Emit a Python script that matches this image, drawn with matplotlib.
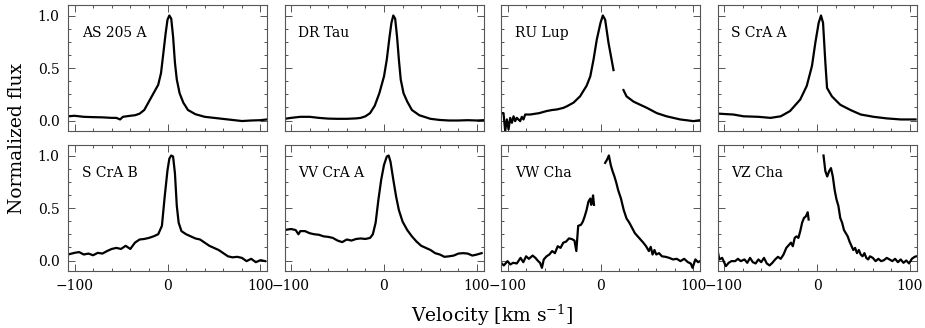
import numpy as np
import matplotlib
matplotlib.use("Agg")
import matplotlib.pyplot as plt
from matplotlib.ticker import MultipleLocator, FixedLocator

plt.rcParams['font.family'] = ['DejaVu Serif']
plt.rcParams['mathtext.fontset'] = 'dejavuserif'

nan = np.nan

names = ["AS 205 A", "DR Tau", "RU Lup", "S CrA A",
         "S CrA B", "VV CrA A", "VW Cha", "VZ Cha"]

as205a_v = [-107, -100, -90, -80, -70, -60, -55, -51, -48, -40, -35, -30, -25, -20, -15, -10, -7, -5, -2, 0,
            2, 4, 6, 8, 10, 13, 17, 22, 30, 40, 50, 60, 70, 80, 90, 100, 107]
as205a_f = [0.04, 0.045, 0.035, 0.032, 0.03, 0.025, 0.025, 0.01, 0.035, 0.045, 0.05, 0.065, 0.10, 0.18, 0.26,
            0.34, 0.45, 0.60, 0.83, 0.96, 1.0, 0.97, 0.80, 0.55, 0.39, 0.26, 0.17, 0.10, 0.06, 0.035, 0.025,
            0.015, 0.005, -0.005, 0.0, 0.003, 0.01]

drtau_v = [-107, -100, -90, -80, -70, -60, -50, -40, -30, -25, -20, -15, -10, -5, 0, 3, 6, 8, 10, 12, 14, 16,
           18, 21, 25, 30, 38, 50, 60, 70, 80, 90, 100, 107]
drtau_f = [0.016, 0.025, 0.035, 0.035, 0.025, 0.018, 0.016, 0.016, 0.02, 0.025, 0.04, 0.07, 0.14, 0.26, 0.42,
           0.58, 0.80, 0.93, 1.0, 0.97, 0.80, 0.58, 0.39, 0.26, 0.18, 0.10, 0.05, 0.016, 0.005, 0.0, 0.0,
           0.003, 0.0, 0.003]

rulup_v = [-107, -104.3, -102.5, -100.7, -98.9, -97.1, -95.3, -93.5, -91.8, -90, -86.4, -84.6, -82.8, -81,
           -75.6, -66, -58, -52, -47, -40, -36, -29, -22, -15, -11, -7.5, -4, 0, 2.5, 5, 8.6, 14,
           19, 24.7, 28, 35.5, 42.7, 50, 60.6, 71, 85.7, 100, 107]
rulup_f = [0.07, 0.07, -0.10, 0.01, -0.085, 0.025, -0.022, 0.04, -0.006, 0.025, -0.006, 0.035, 0.01, 0.057,
           0.057, 0.07, 0.09, 0.10, 0.105, 0.12, 0.136, 0.17, 0.23, 0.33, 0.42, 0.58, 0.77, 0.93, 1.0, 0.96,
           0.74, 0.48, nan, 0.29, 0.23, 0.18, 0.15, 0.12, 0.07, 0.04, 0.01, -0.006, 0.003]

scraa_v = [-107, -100, -90, -79, -63, -50, -39, -29, -18, -11, -5.4, -1.8, 1.8, 4.3, 6.5, 9, 10.8, 16, 25, 36,
           47, 61, 75, 90, 106]
scraa_f = [0.066, 0.062, 0.057, 0.04, 0.035, 0.025, 0.04, 0.09, 0.2, 0.33, 0.52, 0.74, 0.93, 1.0, 0.93, 0.55,
           0.31, 0.23, 0.15, 0.10, 0.057, 0.035, 0.02, 0.01, 0.01]

scrab_v = [-107, -100, -95, -90, -85, -80, -75, -70, -65, -60, -55, -50, -45, -40, -35, -30, -25, -20, -15, -10,
           -6, -3, 0, 2, 4, 6, 8, 10, 12, 15, 20, 25, 30, 35, 40, 45, 50, 55, 60, 65,
           70, 75, 80, 85, 90, 95, 100, 105]
scrab_f = [0.057, 0.073, 0.08, 0.057, 0.066, 0.05, 0.073, 0.066, 0.09, 0.11, 0.12, 0.11, 0.14, 0.11, 0.17, 0.20,
           0.205, 0.215, 0.23, 0.25, 0.33, 0.61, 0.86, 0.97, 1.0, 0.99, 0.83, 0.52, 0.36, 0.28,
           0.25, 0.23, 0.21, 0.20, 0.17, 0.14, 0.12, 0.10, 0.07, 0.04, 0.03, 0.035, 0.025, -0.006, 0.016,
           -0.016, 0.003, -0.006]

vvcraa_v = [-107, -100, -95, -92, -90, -85, -80, -75, -70, -65, -60, -55, -50, -45, -40, -35, -30, -25, -20, -15,
            -12, -9, -6, -3, 0, 3, 5, 7, 10, 13, 16, 20, 25, 30, 35, 40, 45, 50, 55, 60,
            65, 70, 75, 80, 85, 90, 95, 100, 105]
vvcraa_f = [0.29, 0.30, 0.29, 0.25, 0.28, 0.28, 0.26, 0.25, 0.245, 0.23, 0.225, 0.215, 0.19, 0.175, 0.20, 0.19,
            0.205, 0.21, 0.205, 0.215, 0.25, 0.36, 0.58, 0.77, 0.91, 0.99, 1.0, 0.94, 0.77, 0.61,
            0.48, 0.37, 0.29, 0.23, 0.18, 0.14, 0.12, 0.10, 0.07, 0.057, 0.035, 0.04, 0.047, 0.066, 0.07,
            0.066, 0.047, 0.057, 0.07]

vwcha_v = [-107, -104, -100, -97, -94, -90, -86, -83, -80, -77, -73, -70, -67, -65, -63, -61, -58, -55, -52, -49,
           -46, -43, -40, -37, -34, -31, -28, -26, -24, -21, -19, -17, -15, -13, -11, -10, -9, -8, -7,
           0,
           5, 7, 9, 11, 13, 15, 17, 19, 22, 25, 28, 31, 34, 37, 40, 43, 46, 49, 52, 54,
           56, 58, 60, 63, 66, 70, 74, 78, 82, 86, 90, 94, 97, 99, 102, 105, 107]
vwcha_f = [-0.022, -0.047, -0.006, -0.038, -0.022, -0.028, 0.025, -0.016, 0.04, 0.016, 0.047, 0.025, -0.006,
           -0.022, -0.07, 0.01, 0.04, 0.057, 0.09, 0.07, 0.136, 0.12, 0.17, 0.18, 0.21, 0.205, 0.19, 0.09,
           0.33, 0.34, 0.37, 0.42, 0.48, 0.56, 0.59, 0.53, 0.56, 0.62, 0.53,
           nan,
           0.93, 0.96, 1.0, 0.91, 0.85, 0.80, 0.74, 0.67, 0.59, 0.48, 0.40, 0.36, 0.31, 0.26, 0.23, 0.20,
           0.17, 0.136, 0.09, 0.13, 0.057, 0.10, 0.057, 0.07, 0.04, 0.035, 0.025, 0.01, 0.016, -0.006,
           0.016, -0.016, -0.028, -0.07, 0.01, -0.016, -0.006]

vzcha_v = [-107, -105, -102, -98, -95, -92, -88, -85, -82, -78, -75, -72, -69, -66, -63, -60, -57, -54, -51, -48,
           -45, -42, -39, -36, -33, -30, -28, -26, -24, -22, -20, -18, -16, -14, -12, -10, -9,
           0,
           7, 9, 11, 13, 15, 17, 19, 21, 23, 25, 27, 29, 31, 33, 35, 37, 39, 41, 43, 45,
           47, 49, 51, 53, 55, 57, 60, 63, 66, 69, 72, 75, 78, 81, 84, 87, 90, 93, 96, 99, 102, 105, 107]
vzcha_f = [0.10, 0.01, 0.025, -0.054, -0.022, -0.006, -0.006, 0.016, -0.006, 0.01, -0.022, 0.025, -0.016,
           -0.028, 0.01, -0.016, 0.025, -0.028, -0.047, -0.022, 0.01, 0.035, 0.016, 0.057, 0.12, 0.15, 0.17,
           0.136, 0.215, 0.23, 0.215, 0.28, 0.36, 0.405, 0.42, 0.46, 0.39,
           nan,
           1.0, 0.85, 0.80, 0.85, 0.88, 0.80, 0.67, 0.58, 0.52, 0.405, 0.36, 0.29, 0.26, 0.23, 0.18, 0.14,
           0.10, 0.12, 0.07, 0.10, 0.057, 0.04, 0.07, 0.025, 0.01, 0.04, 0.025, -0.006, 0.016, -0.006,
           0.003, 0.025, 0.01, -0.006, 0.016, -0.016, 0.01, -0.022, 0.0, -0.028, 0.016, 0.035, 0.04]

velocities = [as205a_v, drtau_v, rulup_v, scraa_v, scrab_v, vvcraa_v, vwcha_v, vzcha_v]
fluxes = [as205a_f, drtau_f, rulup_f, scraa_f, scrab_f, vvcraa_f, vwcha_f, vzcha_f]

W, H = 925.0, 328.0
fig = plt.figure(figsize=(9.25, 3.28), dpi=100)

lefts = [68, 284.5, 501, 717.5]
tops = [5, 145]
aw, ah = 199, 126

for i in range(8):
    row, col = i // 4, i % 4
    ax = fig.add_axes([lefts[col] / W, (H - tops[row] - ah) / H, aw / W, ah / H])
    ax.plot(velocities[i], fluxes[i], color='black', lw=1.6)
    ax.set_xlim(-107, 107)
    ax.set_ylim(-0.1, 1.1)
    ax.xaxis.set_major_locator(FixedLocator([-100, 0, 100]))
    ax.xaxis.set_minor_locator(MultipleLocator(20))
    ax.yaxis.set_major_locator(FixedLocator([0.0, 0.5, 1.0]))
    ax.yaxis.set_minor_locator(MultipleLocator(0.125))
    ax.tick_params(which='both', direction='in', top=True, right=True, color='#555555',
                   labelsize=10, pad=6)
    ax.tick_params(which='major', length=5, width=0.7)
    ax.tick_params(which='minor', length=2.5, width=0.7)
    for s in ax.spines.values():
        s.set_color('#555555')
        s.set_linewidth(0.8)
    if col == 0:
        ax.set_yticklabels(['0.0', '0.5', '1.0'])
    else:
        ax.set_yticklabels([])
    if row == 1:
        ax.set_xticklabels(['\u2212100', '0', '100'])
    else:
        ax.set_xticklabels([])
    ax.text(0.07, 0.78, names[i], transform=ax.transAxes, fontsize=10, va='center', ha='left')

fig.text(492 / W, 1 - 315 / H, 'Velocity [km s$^{-1}$]', ha='center', va='center', fontsize=13.5)
fig.text(17 / W, 1 - 138 / H, 'Normalized flux', ha='center', va='center', rotation=90, fontsize=13.5)

plt.savefig('out.png', dpi=100)
